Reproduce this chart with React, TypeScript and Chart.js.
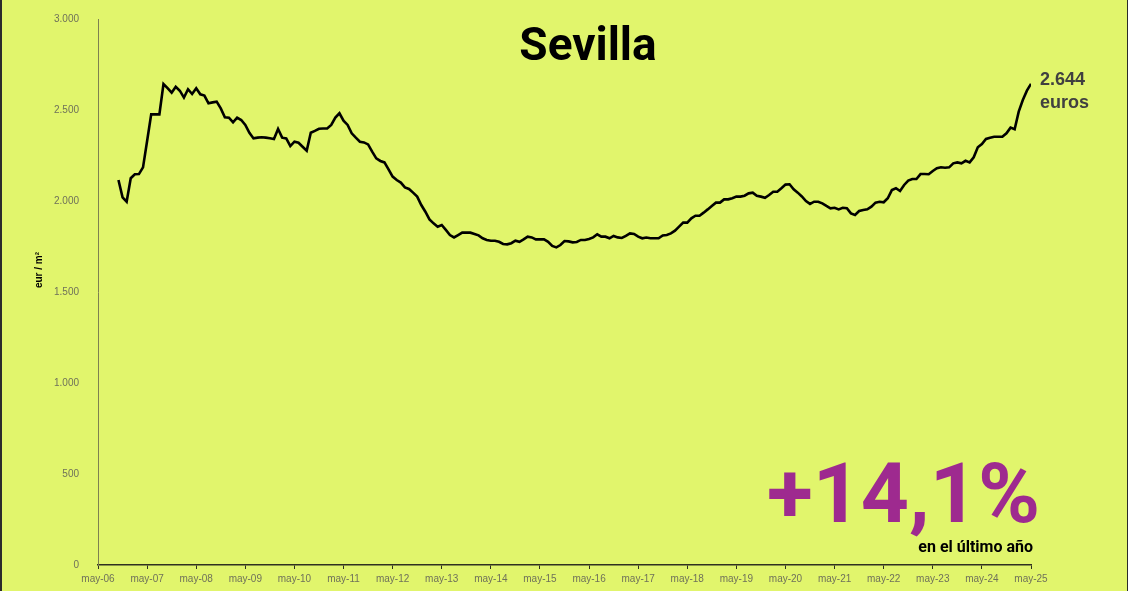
import React, { useEffect, useRef } from 'react';
import Chart from 'chart.js/auto';

// months counted from may-06; the series starts in oct-06
const START_MONTH = 5;

// eur / m2, monthly, oct-06 .. may-25
const precio = [
  2115, 2020, 1996, 2125, 2147, 2148, 2185,
  2330, 2476, 2476, 2476, 2643, 2620, 2595, 2628,
  2606, 2568, 2614, 2588, 2619, 2586, 2579, 2537, 2542, 2546,
  2509, 2460, 2458, 2432, 2458, 2445, 2418, 2375, 2344, 2348,
  2350, 2348, 2345, 2341, 2396, 2348, 2344, 2302, 2326, 2320,
  2298, 2276, 2375, 2385, 2397, 2398, 2399, 2418, 2458, 2482,
  2441, 2418, 2372, 2348, 2326, 2322, 2311, 2271, 2234, 2220,
  2212, 2174, 2134, 2115, 2101, 2075, 2066, 2046, 2024, 1978,
  1941, 1899, 1877, 1859, 1868, 1841, 1813, 1800, 1813, 1826,
  1826, 1826, 1819, 1811, 1795, 1786, 1782, 1782, 1776, 1764,
  1762, 1768, 1782, 1776, 1789, 1804, 1800, 1789, 1789, 1789,
  1776, 1753, 1745, 1758, 1780, 1778, 1773, 1775, 1786, 1786,
  1791, 1800, 1817, 1804, 1804, 1795, 1808, 1800, 1797, 1808,
  1822, 1819, 1804, 1795, 1799, 1795, 1795, 1795, 1811, 1813,
  1822, 1837, 1859, 1881, 1881, 1905, 1919, 1919, 1936, 1954,
  1973, 1991, 1991, 2009, 2009, 2015, 2024, 2024, 2029, 2042,
  2046, 2029, 2024, 2018, 2033, 2051, 2051, 2070, 2090, 2092,
  2064, 2046, 2025, 2000, 1984, 1996, 1996, 1987, 1973, 1960,
  1963, 1954, 1963, 1960, 1932, 1923, 1945, 1951, 1954, 1969,
  1991, 1996, 1993, 2015, 2060, 2070, 2055, 2088, 2112, 2121,
  2121, 2148, 2148, 2147, 2165, 2180, 2185, 2183, 2185, 2207,
  2212, 2207, 2221, 2212, 2240, 2295, 2313, 2341, 2348, 2353,
  2353, 2353, 2372, 2403, 2394, 2491, 2555, 2606, 2644,
];

const xTickLabels = [
  'may-06', 'may-07', 'may-08', 'may-09', 'may-10', 'may-11', 'may-12',
  'may-13', 'may-14', 'may-15', 'may-16', 'may-17', 'may-18', 'may-19',
  'may-20', 'may-21', 'may-22', 'may-23', 'may-24', 'may-25',
];

const yTicks = [0, 500, 1000, 1500, 2000, 2500, 3000];

const BG = '#e1f56c';
const TICK_GREY = '#6f715a';

const fmt = (v: number) => String(v).replace(/\B(?=(\d{3})+(?!\d))/g, '.');

const overlay = {
  id: 'overlay',
  afterDraw(chart: any) {
    const { ctx, chartArea, scales } = chart;
    const last = precio.length - 1;
    const px = scales.x.getPixelForValue(START_MONTH + last);
    const py = scales.y.getPixelForValue(precio[last]);

    ctx.save();
    ctx.fillStyle = '#000';
    ctx.textAlign = 'center';
    ctx.textBaseline = 'alphabetic';
    ctx.font = 'bold 46px Roboto';
    ctx.fillText('Sevilla', 588, 60);

    // axis title
    ctx.save();
    ctx.translate(39, 270);
    ctx.rotate(-Math.PI / 2);
    ctx.textBaseline = 'middle';
    ctx.font = 'bold 10px "Liberation Sans", Arial';
    ctx.fillText('eur / m²', 0, 0);
    ctx.restore();

    // last value
    ctx.textAlign = 'left';
    ctx.fillStyle = '#404040';
    ctx.font = 'bold 18px "Liberation Sans", Arial';
    ctx.fillText(fmt(precio[last]), px + 9, py + 1);
    ctx.fillText('euros', px + 9, py + 24);

    // yearly change
    ctx.textAlign = 'right';
    ctx.fillStyle = '#9e2a8f';
    ctx.font = 'bold 84px Roboto';
    ctx.fillText('+14,1%', chartArea.right + 9, 522);
    ctx.fillStyle = '#000';
    ctx.font = 'bold 16px Roboto';
    ctx.fillText('en el último año', chartArea.right + 2, 552);
    ctx.restore();
  },
};

const App: React.FC = () => {
  const chartRef = useRef<HTMLCanvasElement>(null);

  useEffect(() => {
    document.body.style.margin = '0';
    if (!chartRef.current) return;

    const chart = new Chart(chartRef.current, {
      type: 'line',
      data: {
        datasets: [
          {
            label: 'Sevilla',
            data: precio.map((v, k) => ({ x: START_MONTH + k, y: v })),
            borderColor: '#000',
            borderWidth: 2.6,
            pointRadius: 0,
            tension: 0,
            fill: false,
          },
        ],
      },
      options: {
        animation: false,
        responsive: true,
        maintainAspectRatio: false,
        layout: { padding: { top: 19, right: 97, left: 0, bottom: 0 } },
        plugins: {
          legend: { display: false },
          tooltip: { enabled: false },
        },
        scales: {
          x: {
            type: 'linear',
            min: 0,
            max: 228,
            afterBuildTicks: (s: any) => {
              s.ticks = xTickLabels.map((_, k) => ({ value: k * 12 }));
            },
            afterFit: (s: any) => {
              s.height = 26;
            },
            ticks: {
              autoSkip: false,
              maxRotation: 0,
              padding: 4,
              color: TICK_GREY,
              font: { family: '"Liberation Sans", Arial', size: 10 },
              callback: (v: any) => xTickLabels[Math.round(Number(v) / 12)],
            },
            grid: {
              drawOnChartArea: false,
              drawTicks: true,
              tickLength: 4,
              color: '#2f3020',
            },
            border: { color: '#2f3020', width: 1.5 },
          },
          y: {
            min: 0,
            max: 3000,
            afterBuildTicks: (s: any) => {
              s.ticks = yTicks.map((v) => ({ value: v }));
            },
            afterFit: (s: any) => {
              s.width = 98;
            },
            ticks: {
              padding: 11,
              color: TICK_GREY,
              font: { family: '"Liberation Sans", Arial', size: 10 },
              callback: (v: any) => fmt(Number(v)),
            },
            grid: { display: false },
            border: { color: '#7d8050', width: 1 },
          },
        },
      },
      plugins: [overlay],
    });

    return () => chart.destroy();
  }, []);

  return (
    <div style={{ position: 'relative', width: 1128, height: 591, background: BG }}>
      <canvas ref={chartRef}></canvas>
      <div style={{ position: 'absolute', left: 0, top: 0, width: 2, height: 591, background: '#2b2b2b' }} />
      <div style={{ position: 'absolute', right: 0, top: 0, width: 1, height: 591, background: '#2b2b2b' }} />
    </div>
  );
};

export default App;
